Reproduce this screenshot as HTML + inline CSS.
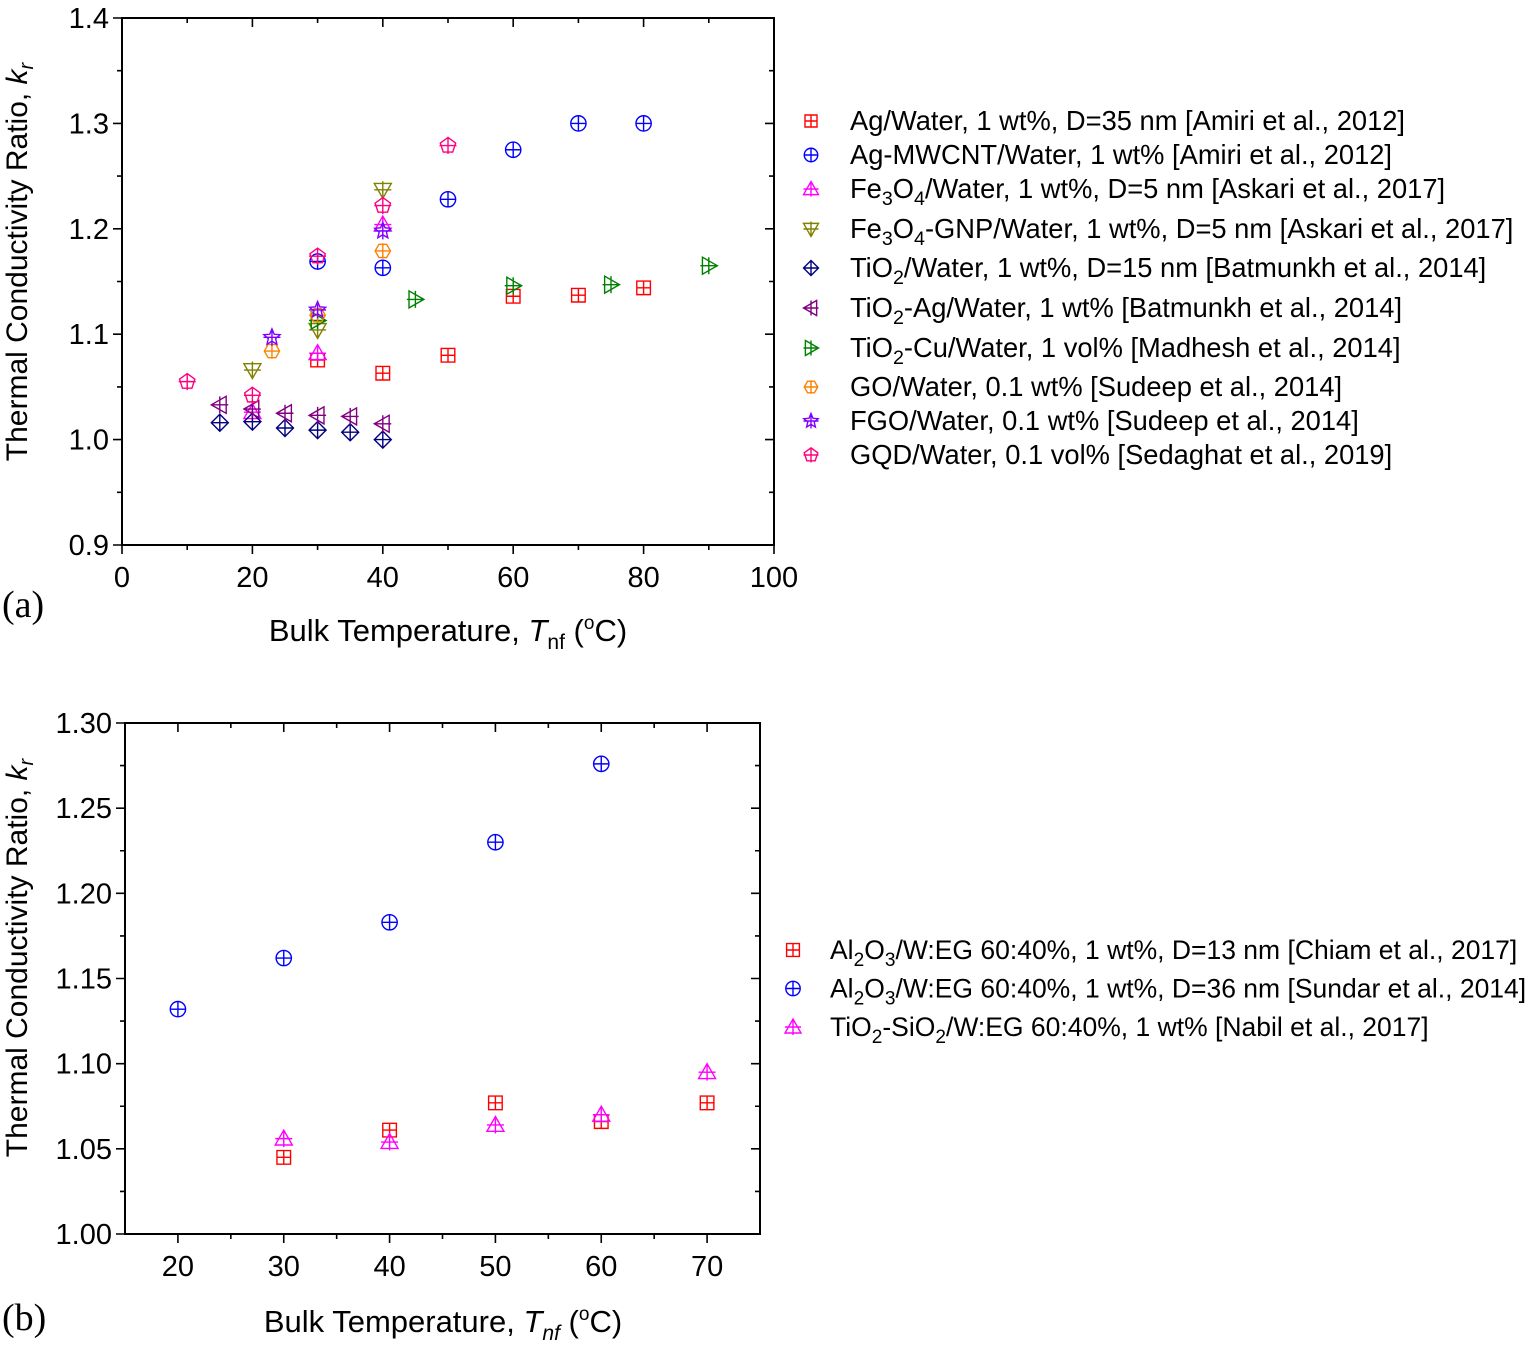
<!DOCTYPE html>
<html><head><meta charset="utf-8"><style>
body{margin:0;background:#fff;}
svg text{font-family:"Liberation Sans",Arial,sans-serif;}
svg text.serif{font-family:"Liberation Serif",serif;}
</style></head><body>
<svg id="svg" width="1525" height="1347" xmlns="http://www.w3.org/2000/svg">
<g id="chartA"></g>
<g id="chartB"></g>
</svg>
<script>
// ---- Chart A data ----
const aXTicks = [0,20,40,60,80,100];
const aYTicks = [0.9,1.0,1.1,1.2,1.3,1.4];
const aNames = ["Ag/Water, 1 wt%, D=35 nm [Amiri et al., 2012]","Ag-MWCNT/Water, 1 wt% [Amiri et al., 2012]","Fe_3O_4/Water, 1 wt%, D=5 nm [Askari et al., 2017]","Fe_3O_4-GNP/Water, 1 wt%, D=5 nm [Askari et al., 2017]","TiO_2/Water, 1 wt%, D=15 nm [Batmunkh et al., 2014]","TiO_2-Ag/Water, 1 wt% [Batmunkh et al., 2014]","TiO_2-Cu/Water, 1 vol% [Madhesh et al., 2014]","GO/Water, 0.1 wt% [Sudeep et al., 2014]","FGO/Water, 0.1 wt% [Sudeep et al., 2014]","GQD/Water, 0.1 vol% [Sedaghat et al., 2019]"];
const aX0 = [30,40,50,60,70,80];       const aY0 = [1.0755,1.063,1.080,1.136,1.137,1.144];
const aX1 = [30,40,50,60,70,80];       const aY1 = [1.169,1.163,1.228,1.275,1.300,1.300];
const aX2 = [20,30,40];                const aY2 = [1.026,1.082,1.204];
const aX3 = [20,30,40];                const aY3 = [1.066,1.104,1.237];
const aX4 = [15,20,25,30,35,40];       const aY4 = [1.016,1.017,1.011,1.009,1.007,1.000];
const aX5 = [15,20,25,30,35,40];       const aY5 = [1.033,1.029,1.025,1.023,1.022,1.015];
const aX6 = [30,45,60,75,90];          const aY6 = [1.113,1.133,1.146,1.147,1.165];
const aX7 = [23,30,40];                const aY7 = [1.084,1.118,1.179];
const aX8 = [23,30,40];                const aY8 = [1.097,1.123,1.198];
const aX9 = [10,20,30,40,50];          const aY9 = [1.055,1.042,1.174,1.222,1.279];
// ---- Chart B data ----
const bXTicks = [20,30,40,50,60,70];
const bYTicks = [1.00,1.05,1.10,1.15,1.20,1.25,1.30];
const bNames = ["Al_2O_3/W:EG 60:40%, 1 wt%, D=13 nm [Chiam et al., 2017]","Al_2O_3/W:EG 60:40%, 1 wt%, D=36 nm [Sundar et al., 2014]","TiO_2-SiO_2/W:EG 60:40%, 1 wt% [Nabil et al., 2017]"];
const bX0 = [30,40,50,60,70]; const bY0 = [1.045,1.061,1.077,1.066,1.077];
const bX1 = [20,30,40,50,60]; const bY1 = [1.132,1.162,1.183,1.230,1.276];
const bX2 = [30,40,50,60,70]; const bY2 = [1.056,1.054,1.064,1.070,1.095];

const NS="http://www.w3.org/2000/svg";
function mk(parent,tag,attrs){const e=document.createElementNS(NS,tag);for(const k in attrs)e.setAttribute(k,attrs[k]);parent.appendChild(e);return e;}
function marker(g,shape,cx,cy,color,s){
  const h=s; let d="";
  const cross=`M${cx-h},${cy}L${cx+h},${cy}M${cx},${cy-h}L${cx},${cy+h}`;
  if(shape==="square"){d=`M${cx-h*0.8},${cy-h*0.8}h${1.6*h}v${1.6*h}h${-1.6*h}Z M${cx-h*0.8},${cy}h${1.6*h}M${cx},${cy-h*0.8}v${1.6*h}`;}
  else if(shape==="circle"){mk(g,"circle",{cx,cy,r:h*0.9,fill:"none",stroke:color,"stroke-width":1.4});d=`M${cx-h*0.9},${cy}h${1.8*h}M${cx},${cy-h*0.9}v${1.8*h}`;}
  else if(shape==="up"){d=`M${cx},${cy-h}L${cx+h},${cy+h*0.75}L${cx-h},${cy+h*0.75}Z`+cross;}
  else if(shape==="down"){d=`M${cx},${cy+h}L${cx+h},${cy-h*0.75}L${cx-h},${cy-h*0.75}Z`+cross;}
  else if(shape==="diamond"){d=`M${cx},${cy-h}L${cx+h},${cy}L${cx},${cy+h}L${cx-h},${cy}Z`+cross;}
  else if(shape==="left"){d=`M${cx-h},${cy}L${cx+h*0.75},${cy-h}L${cx+h*0.75},${cy+h}Z`+cross;}
  else if(shape==="right"){d=`M${cx+h},${cy}L${cx-h*0.75},${cy-h}L${cx-h*0.75},${cy+h}Z`+cross;}
  else if(shape==="hex"){let p="";for(let i=0;i<6;i++){const a=Math.PI/3*i;p+=(i?"L":"M")+(cx+h*0.9*Math.cos(a))+","+(cy+h*0.9*Math.sin(a));}d=p+"Z"+`M${cx-h*0.9},${cy}h${1.8*h}M${cx},${cy-h*0.9}v${1.8*h}`;}
  else if(shape==="star"){let p="";for(let i=0;i<10;i++){const a=-Math.PI/2+Math.PI/5*i;const r=i%2?h*0.45:h;p+=(i?"L":"M")+(cx+r*Math.cos(a))+","+(cy+r*Math.sin(a));}d=p+"Z"+cross;}
  else if(shape==="pent"){let p="";for(let i=0;i<5;i++){const a=-Math.PI/2+2*Math.PI/5*i;p+=(i?"L":"M")+(cx+h*0.95*Math.cos(a))+","+(cy+h*0.95*Math.sin(a));}d=p+"Z"+cross;}
  mk(g,"path",{d,fill:"none",stroke:color,"stroke-width":1.4});
}
function label(g,txt,x,y,size){
  const t=mk(g,"text",{x,y,"font-size":size,fill:"#000"});
  const parts=txt.split(/_(\d)/);
  let shifted=false;
  parts.forEach((p,i)=>{
    if(i%2===1){const s=mk(t,"tspan",{dy:shifted?0:7,"font-size":size*0.72});s.textContent=p;shifted=true;}
    else if(p.length){const s=mk(t,"tspan",{dy:shifted?-7:0});s.textContent=p;shifted=false;}
  });
  return t;
}
function axes(g,o){
  const X=v=>o.l+(v-o.x0)/(o.x1-o.x0)*(o.r-o.l);
  const Y=v=>o.b-(v-o.y0)/(o.y1-o.y0)*(o.b-o.t);
  const frame=mk(g,"rect",{x:o.l,y:o.t,width:o.r-o.l,height:o.b-o.t,fill:"none",stroke:"#000","stroke-width":2});
  
  
  const tk=mk(g,"path",{fill:"none",stroke:"#000","stroke-width":1.6});
  let d="";
  o.xt.forEach((v,i)=>{const x=X(v);d+=`M${x},${o.b}v9M${x},${o.t}v9`;
    const t=mk(g,"text",{x,y:o.b+42,"font-size":29,"text-anchor":"middle"});t.textContent=v;
    
    
    if(i<o.xt.length-1){const m=X((v+o.xt[i+1])/2);d+=`M${m},${o.b}v5M${m},${o.t}v5`;}
  });
  o.yt.forEach((v,i)=>{const y=Y(v);d+=`M${o.l},${y}h-9M${o.r},${y}h-9`;
    const t=mk(g,"text",{x:o.l-13,y:y+10,"font-size":29,"text-anchor":"end"});t.textContent=v.toFixed(o.dec);
    
    
    if(i<o.yt.length-1){const m=Y((v+o.yt[i+1])/2);d+=`M${o.l},${m}h-5M${o.r},${m}h-5`;}
  });
  tk.setAttribute("d",d);
  return {X,Y};
}
function yTitle(g,x,y){
  const t=mk(g,"text",{x,y,"font-size":30,"text-anchor":"middle",transform:`rotate(-90 ${x} ${y})`});
  
  
  t.innerHTML='Thermal Conductivity Ratio, <tspan font-style="italic">k</tspan><tspan font-style="italic" font-size="20" dy="6">r</tspan>';
}
function xTitle(g,x,y,italicSub){
  const t=mk(g,"text",{x,y,"font-size":31,"text-anchor":"middle"});
  
  
  t.innerHTML='Bulk Temperature, <tspan font-style="italic">T</tspan><tspan font-size="21" dy="8"'+(italicSub?' font-style="italic"':'')+'>nf</tspan><tspan dy="-8"> (</tspan><tspan font-size="19" dy="-12">o</tspan><tspan dy="12">C)</tspan>';
}
// Chart A
const gA=document.getElementById("chartA");
const A=axes(gA,{l:122,r:774,t:18,b:545,x0:0,x1:100,y0:0.9,y1:1.4,xt:aXTicks,yt:aYTicks,dec:1});
yTitle(gA,27,262);xTitle(gA,448,641,false);
let pa=mk(gA,"text",{x:2,y:617,"font-size":38,"class":"serif"});pa.textContent="(a)";


const aShapes=["square","circle","up","down","diamond","left","right","hex","star","pent"];
const aColors=["#ff0000","#0000ff","#ff00ff","#808000","#000080","#800080","#008000","#ff8000","#8000ff","#ff0080"];
const aLegY=[121,155,189,229,268,308,348,387,421,455];
const aXs=[aX0,aX1,aX2,aX3,aX4,aX5,aX6,aX7,aX8,aX9], aYs=[aY0,aY1,aY2,aY3,aY4,aY5,aY6,aY7,aY8,aY9];
aXs.forEach((xs,s)=>{
  const g=mk(gA,"g",{});
  
  
  xs.forEach((x,i)=>marker(g,aShapes[s],A.X(x),A.Y(aYs[s][i]),aColors[s],8.5));
  const lg=mk(gA,"g",{});
  
  
  const ly=aLegY[s];
  marker(lg,aShapes[s],811,ly,aColors[s],7.5);
  label(lg,aNames[s],850,ly+9,27.3);
});
// Chart B
const gB=document.getElementById("chartB");
const B=axes(gB,{l:125,r:760,t:723,b:1234,x0:15,x1:75,y0:1.0,y1:1.3,xt:bXTicks,yt:bYTicks,dec:2});
yTitle(gB,27,958);xTitle(gB,443,1332,true);
let pb=mk(gB,"text",{x:2,y:1330,"font-size":38,"class":"serif"});pb.textContent="(b)";


const bShapes=["square","circle","up"], bColors=["#ff0000","#0000ff","#ff00ff"];
const bXs=[bX0,bX1,bX2], bYs=[bY0,bY1,bY2];
bXs.forEach((xs,s)=>{
  const g=mk(gB,"g",{});
  
  
  xs.forEach((x,i)=>marker(g,bShapes[s],B.X(x),B.Y(bYs[s][i]),bColors[s],8.5));
  const lg=mk(gB,"g",{});
  
  
  const ly=950+s*38.5;
  marker(lg,bShapes[s],793,ly,bColors[s],8);
  label(lg,bNames[s],830,ly+9,26.5);
});
</script>
</body></html>
